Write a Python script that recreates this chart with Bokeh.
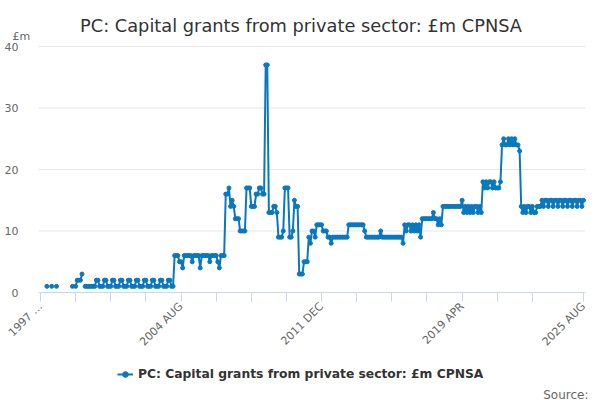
import math
import numpy as np
from bokeh.plotting import figure
from bokeh.models import (FixedTicker, Legend, LegendItem, ColumnDataSource, Range1d,
                          LinearAxis, Label)
from bokeh.embed import file_html
from bokeh.resources import INLINE

N = None
# Monthly values, 1997 APR .. 2025 AUG, one list per 12-month block (APR..MAR)
y1997 = [N, N, N, N, 1, N, N, 1, N, N, 1, N]
y1998 = [N, N, N, N, N, N, N, N, 1, N, 1, 2]
y1999 = [2, 2, 3, N, 1, 1, 1, 1, 1, 1, 1, 2]
y2000 = [2, 1, 1, 1, 2, 2, 1, 1, 1, 2, 2, 1]
y2001 = [1, 1, 2, 2, 1, 1, 1, 2, 2, 1, 1, 1]
y2002 = [2, 2, 1, 1, 1, 2, 2, 1, 1, 1, 2, 2]
y2003 = [1, 1, 1, 2, 2, 1, 1, 1, 2, 2, 1, 1]
y2004 = [6, 6, 6, 5, 5, 4, 6, 6, 6, 6, 6, 5]
y2005 = [6, 6, 6, 6, 4, 6, 6, 6, 6, 6, 5, 6]
y2006 = [6, 6, 6, 5, 4, 6, 6, 6, 16, 16, 17, 14]
y2007 = [15, 14, 12, 12, 12, 10, 10, 10, 10, 17, 17, 17]
y2008 = [14, 14, 14, 16, 16, 17, 17, 16, 16, 37, 37, 13]
y2009 = [13, 13, 14, 14, 13, 9, 9, 9, 10, 17, 17, 17]
y2010 = [9, 9, 10, 15, 14, 14, 3, 3, 3, 5, 5, 5]
y2011 = [9, 8, 10, 10, 9, 11, 11, 11, 11, 10, 10, 10]
y2012 = [9, 9, 8, 9, 9, 9, 9, 9, 9, 9, 9, 9]
y2013 = [9, 11, 11, 11, 11, 11, 11, 11, 11, 11, 11, 10]
y2014 = [9, 9, 9, 9, 9, 9, 9, 9, 9, 10, 9, 9]
y2015 = [9, 9, 9, 9, 9, 9, 9, 9, 9, 9, 9, 8]
y2016 = [11, 10, 11, 11, 10, 11, 10, 11, 10, 11, 9, 12]
y2017 = [12, 12, 12, 12, 12, 12, 13, 12, 12, 11, 12, 11]
y2018 = [14, 14, 14, 14, 14, 14, 14, 14, 14, 14, 14, 14]
y2019 = [15, 13, 14, 13, 14, 13, 14, 13, 14, 14, 13, 14]
y2020 = [13, 18, 17, 18, 17, 18, 18, 17, 18, 17, 17, 17]
y2021 = [18, 24, 25, 24, 24, 25, 24, 25, 24, 25, 24, 24]
y2022 = [23, 14, 13, 14, 13, 14, 14, 13, 14, 13, 13, 14]
y2023 = [14, 14, 15, 14, 15, 15, 14, 15, 15, 14, 15, 15]
y2024 = [14, 15, 15, 14, 15, 15, 14, 15, 15, 14, 15, 15]
y2025 = [14, 15, 15, 14, 15]

tick_months = [0, 22, 44, 66, 88, 110, 132, 154, 176, 198, 220, 242, 264, 286, 308, 340]
tick_labels = {0: "1997 \u2026", 88: "2004 AUG", 176: "2011 DEC", 264: "2019 APR", 340: "2025 AUG"}
y_ticks = [0, 10, 20, 30, 40]
grid_values = [10, 20, 30, 40]

series_name = "PC: Capital grants from private sector: \u00a3m CPNSA"
unit_label = "\u00a3m"
source_label = "Source:"

vals = (y1997 + y1998 + y1999 + y2000 + y2001 + y2002 + y2003 + y2004 + y2005 + y2006 +
        y2007 + y2008 + y2009 + y2010 + y2011 + y2012 + y2013 + y2014 + y2015 + y2016 +
        y2017 + y2018 + y2019 + y2020 + y2021 + y2022 + y2023 + y2024 + y2025)
yv = np.array([np.nan if v is None else float(v) for v in vals])
xv = np.arange(len(yv))

FONT = "DejaVu Sans"
BLUE = "#0a78be"

# Whole canvas is the frame; axes are pinned with fixed_location.
# Plot area: x 38..585 px, y 46..292 px (month 0 -> x 40, month 340 -> x 583).
W, H = 600, 400
PX_M = 543.0 / 340.0
PX_V = 246.0 / 40.0
x0 = -40.0 / PX_M
x1 = x0 + W / PX_M
ytop = 292.0 / PX_V
ybot = ytop - H / PX_V
plot_left = -2.0 / PX_M
plot_right = 340 + 2.0 / PX_M

p = figure(width=W, height=H, output_backend="svg", toolbar_location=None,
           x_range=Range1d(x0, x1), y_range=Range1d(ybot, ytop),
           x_axis_type=None, y_axis_type=None,
           min_border=0, min_border_left=0, min_border_right=0,
           min_border_top=0, min_border_bottom=0)
p.outline_line_color = None
p.background_fill_color = "white"
p.border_fill_color = "white"
p.xgrid.visible = False
p.ygrid.visible = False

# horizontal grid lines at the y tick values
p.segment(x0=[plot_left] * len(grid_values), x1=[plot_right] * len(grid_values),
          y0=grid_values, y1=grid_values, line_color="#e6e6e6", line_width=1)

src = ColumnDataSource(dict(x=xv, y=yv))
lr = p.line("x", "y", source=src, line_color=BLUE, line_width=2)
sr = p.scatter("x", "y", source=src, size=4, fill_color=BLUE, line_color=BLUE)

yaxis = LinearAxis(fixed_location=plot_left,
                   ticker=FixedTicker(ticks=y_ticks, minor_ticks=[]))
yaxis.axis_line_color = None
yaxis.major_tick_line_color = None
yaxis.minor_tick_line_color = None
yaxis.major_label_text_color = "#666666"
yaxis.major_label_text_font_size = "11px"
yaxis.major_label_text_font = FONT
yaxis.major_label_standoff = 14
p.add_layout(yaxis, "left")

xaxis = LinearAxis(fixed_location=0,
                   ticker=FixedTicker(ticks=tick_months, minor_ticks=[]))
xaxis.bounds = (plot_left, plot_right)
xaxis.major_label_overrides = {t: tick_labels.get(t, "") for t in tick_months}
xaxis.major_label_orientation = math.pi / 4
xaxis.axis_line_color = "#ccd6eb"
xaxis.major_tick_line_color = "#ccd6eb"
xaxis.major_tick_out = 9
xaxis.major_tick_in = 0
xaxis.minor_tick_line_color = None
xaxis.major_label_text_color = "#666666"
xaxis.major_label_text_font_size = "11px"
xaxis.major_label_text_font = FONT
xaxis.major_label_standoff = 3
p.add_layout(xaxis, "below")

# texts (screen units measured from the canvas bottom-left)
p.add_layout(Label(x=300.5, y=H - 25, x_units="screen", y_units="screen", text=series_name,
                   text_align="center", text_baseline="alphabetic", text_font=FONT,
                   text_font_size="17.8px", text_color="#333333"))
p.add_layout(Label(x=12, y=H - 36, x_units="screen", y_units="screen", text=unit_label,
                   text_align="left", text_baseline="alphabetic", text_font=FONT,
                   text_font_size="11px", text_color="#666666"))
p.add_layout(Label(x=588, y=H - 394, x_units="screen", y_units="screen", text=source_label,
                   text_align="right", text_baseline="alphabetic", text_font=FONT,
                   text_font_size="12px", text_color="#666666"))

legend = Legend(items=[LegendItem(label=series_name, renderers=[lr, sr])],
                location=(117, H - 380.5), orientation="horizontal",
                padding=0, margin=0, spacing=0, glyph_width=16, glyph_height=14,
                label_height=14, label_standoff=5,
                label_text_font=FONT, label_text_font_size="12.3px",
                label_text_font_style="bold", label_text_color="#333333",
                background_fill_alpha=0, border_line_alpha=0)
p.add_layout(legend, "center")

open("out.html", "w").write(file_html(p, INLINE))
